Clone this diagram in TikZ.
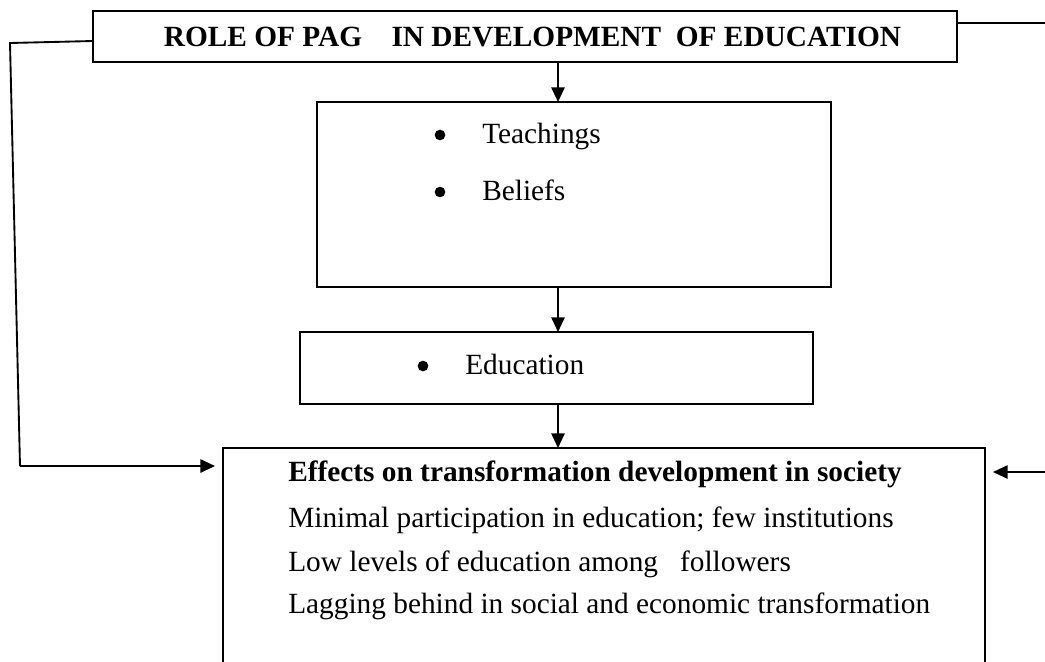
\documentclass[tikz,border=0pt]{standalone}
\usepackage{fontspec}
\setmainfont{Liberation Serif}
\usetikzlibrary{arrows.meta,calc}
\begin{document}
\begin{tikzpicture}[x=0.75pt,y=-0.75pt,
  boxstyle/.style={draw,line width=1.4pt,inner sep=0pt,outer sep=0pt},
  conn/.style={line width=1.4pt},
  arr/.style={line width=1.4pt,-{Triangle[length=11pt,width=10pt]}},
  txt/.style={inner sep=0pt,anchor=base west,font=\fontsize{22}{26}\selectfont},
  bul/.style={circle,fill=black,draw=none,inner sep=0pt,minimum size=8pt}]
\useasboundingbox (0,0) rectangle (1045,661);
\clip (0,0) rectangle (1045,661);
% boxes
\node[boxstyle,minimum width=648pt,minimum height=38.25pt] (title) at (525,36.5) {};
\node[boxstyle,minimum width=385.5pt,minimum height=138.75pt] (teach) at (574,194.5) {};
\node[boxstyle,minimum width=384.75pt,minimum height=54pt] (edu) at (556.5,368) {};
\node[boxstyle,minimum width=571.5pt,minimum height=189pt] (eff) at (604,574) {};
% texts
\node[inner sep=0pt,anchor=base,font=\fontsize{22}{26}\selectfont\bfseries] (titletxt) at (532.5,46.5)
  {ROLE OF PAG\ \ \ \ IN DEVELOPMENT\ \ OF EDUCATION};
\node[bul] (b1) at (440,135) {};
\node[txt] (t1) at (482,143) {Teachings};
\node[bul] (b2) at (440,192) {};
\node[txt] (t2) at (482,200) {Beliefs};
\node[bul] (b3) at (423,366) {};
\node[txt] (t3) at (465,374) {Education};
\node[txt,font=\fontsize{22}{26}\selectfont\bfseries] (e1) at (288,481) {Effects on transformation development in society};
\node[txt] (e2) at (288,527) {Minimal participation in education; few institutions};
\node[txt] (e3) at (288,571) {Low levels of education among\ \ \ followers};
\node[txt] (e4) at (288,613) {Lagging behind in social and economic transformation};
% connectors
\coordinate (ax) at (558,0);
\draw[arr] (title.south -| ax) -- (teach.north -| ax);
\draw[arr] (teach.south -| ax) -- (edu.north -| ax);
\draw[arr] (edu.south -| ax) -- (eff.north -| ax);
\coordinate (l0) at (93,41);
\coordinate (l1) at (10,43);
\coordinate (l2) at (20,466);
\draw[conn] (title.west |- l0) -- (l1) -- (l2);
\draw[arr,shorten >=6pt] (l2) -- (eff.west |- l2);
\coordinate (r1) at (1046,23);
\coordinate (r2) at (1046,472);
\draw[conn] (title.east |- r1) -- (r1);
\draw[arr,shorten >=6pt] (r2) -- (eff.east |- r2);
\end{tikzpicture}
\end{document}
